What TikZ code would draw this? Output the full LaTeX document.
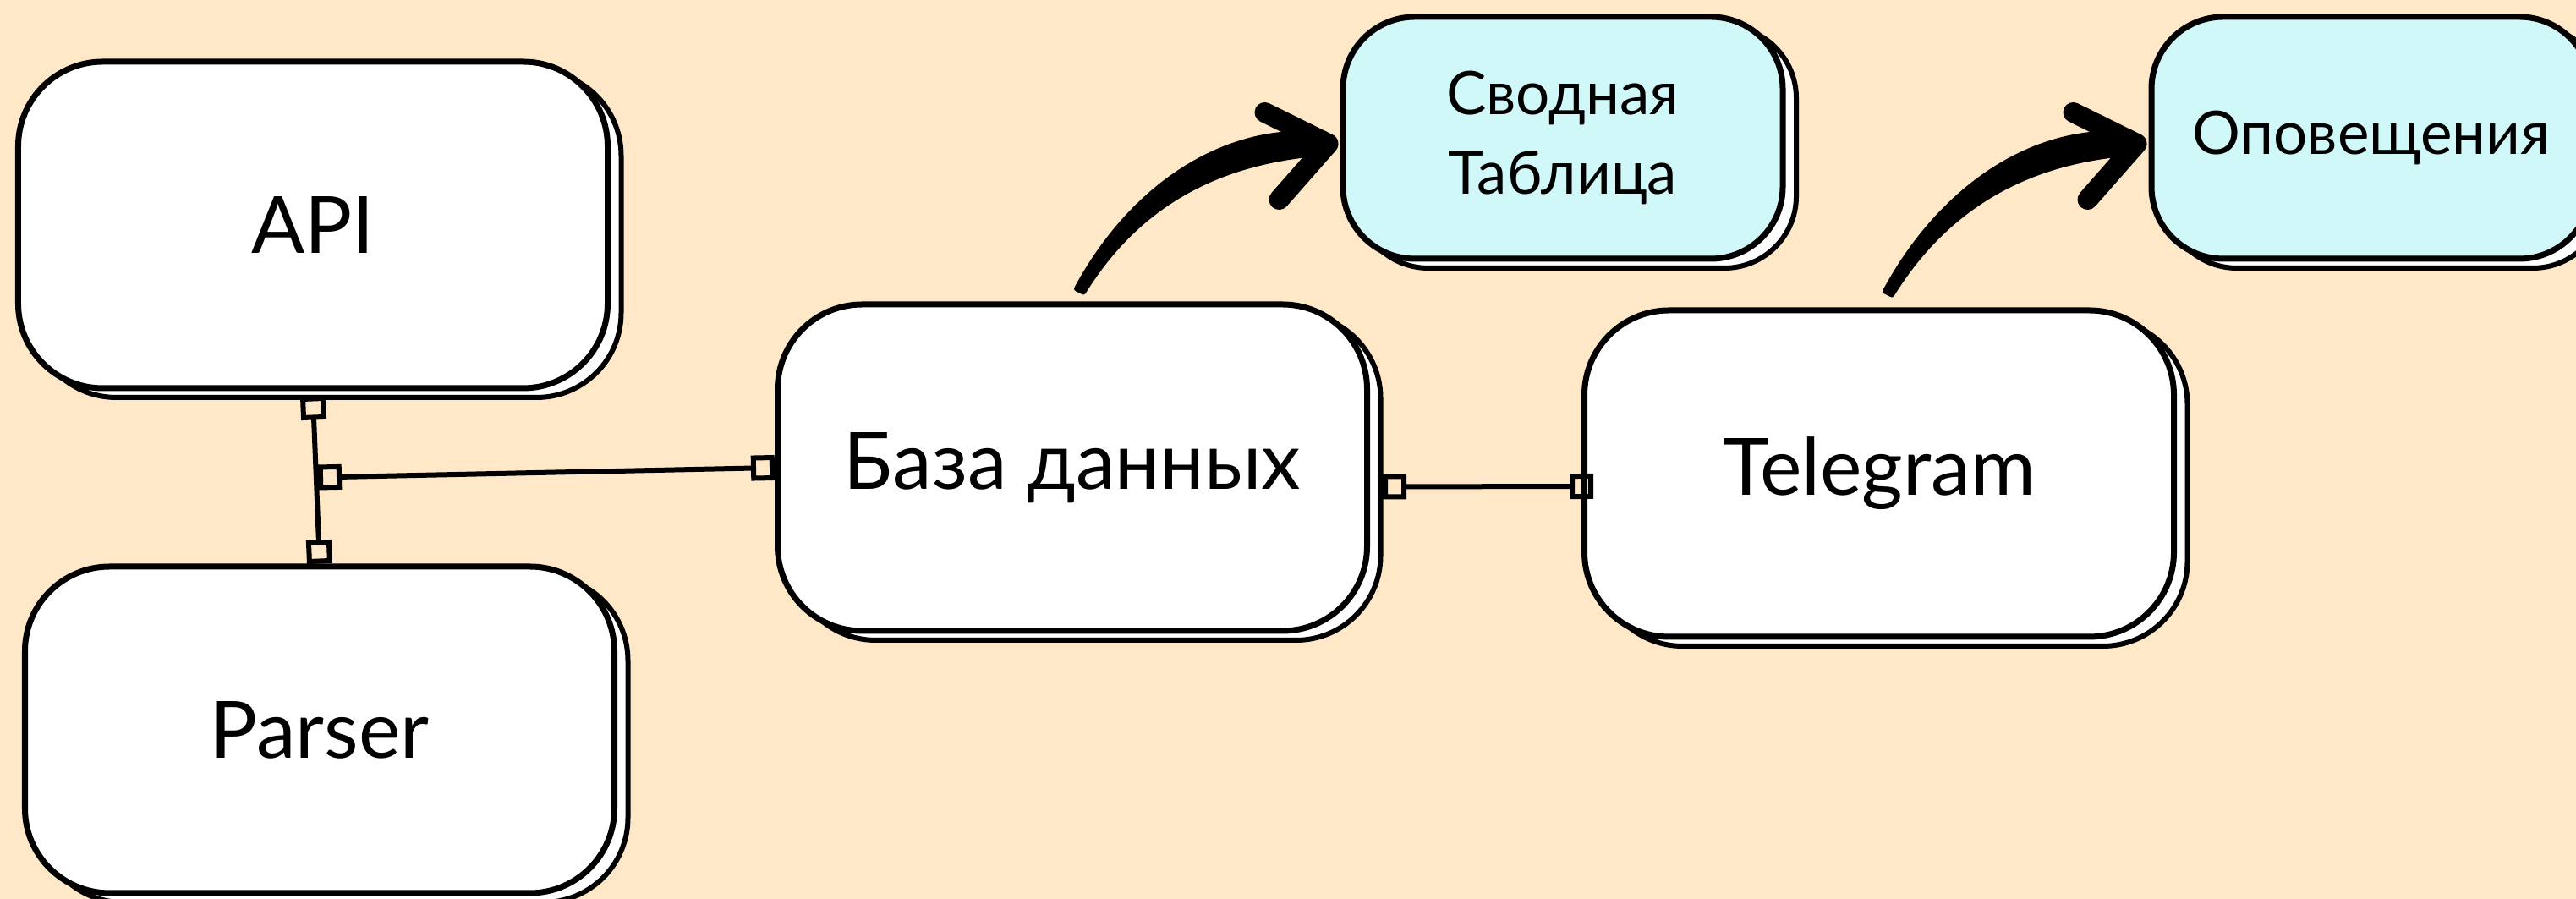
\documentclass[tikz,border=0pt]{standalone}
\usepackage{fontspec}
\setmainfont{Lato}
\usetikzlibrary{arrows.meta, positioning, calc, shadows}

\definecolor{bgpeach}{RGB}{255,232,199}
\definecolor{tablecyan}{RGB}{208,248,248}

% thick hand-drawn arrow: #1 start, #2 tip
\newcommand{\bigarrow}[2]{%
    \filldraw[line width=0.6mm, line join=round] ($(#1)+(-0.03,0.02)$) .. controls +(0.63,1.17) and +(-1.15,0.07) .. ($(#2)+(-0.14,0.12)$)
        -- ($(#2)+(-0.14,-0.12)$) .. controls +(-1.1,-0.1) and +(0.68,1.1) .. ($(#1)+(0.05,-0.02)$) -- cycle;
    \draw[line width=2.4mm, line cap=round, line join=round] ($(#2)+(-0.75,0.37)$) -- (#2) -- ($(#2)+(-0.58,-0.66)$);
}

\begin{document}
\begin{tikzpicture}[
    box/.style={rectangle, draw, line width=0.7mm, fill=white, rounded corners=1cm, inner sep=0pt,
        general shadow={fill=white, draw=black, line width=0.6mm, shadow xshift=1.6mm, shadow yshift=-1.1mm}},
    bigbox/.style={box, minimum width=6.97cm, minimum height=3.86cm, font=\fontsize{26.6}{32}\selectfont},
    smallbox/.style={box, fill=tablecyan, rounded corners=0.85cm, minimum width=5.2cm, minimum height=2.86cm,
        align=center, font=\fontsize{20.2}{26.5}\selectfont},
    link/.style={line width=0.6mm, {Square[open,length=2.8mm,width=3mm]}-{Square[open,length=2.8mm,width=3mm]}}
]
    % Background
    \fill[bgpeach] (0,0) rectangle (30.46,10.63);
    \useasboundingbox (0,0) rectangle (30.46,10.63);

    % Sources
    \node[bigbox] (api) at (3.7,7.97) {API};
    \node[bigbox, below=2.04cm of api, xshift=0.08cm] (parser) {Parser};

    % Storage and bot
    \node[bigbox] (db) at (12.68,5.1) {База данных};
    \node[bigbox, right=2.5cm of db, yshift=-0.07cm] (tg) {Telegram};

    % Outputs
    \node[smallbox] (sum) at (18.48,9.0) {Сводная\\Таблица};
    \node[smallbox, right=4.29cm of sum] (alert) {Оповещения};

    % Links
    \coordinate (mid) at ($(api.south)!0.5!(parser.north)$);
    \draw[link] ([yshift=-0.6mm]api.south) -- (parser.north);
    \draw[link] ([xshift=0.2mm]mid) -- (db.west);
    \draw[link] ([xshift=1.5mm,yshift=-2.25mm]db.east) -- ([xshift=1.4mm,yshift=-1.5mm]tg.west);

    % Arrows
    \coordinate (a1) at ($(db.north)+(0.08,0.13)$);
    \coordinate (b1) at ($(sum.west)+(-0.14,-0.07)$);
    \coordinate (a2) at ($(tg.north)+(0.1,0.17)$);
    \coordinate (b2) at ($(alert.west)+(-0.14,-0.07)$);
    \bigarrow{a1}{b1}
    \bigarrow{a2}{b2}
\end{tikzpicture}
\end{document}
